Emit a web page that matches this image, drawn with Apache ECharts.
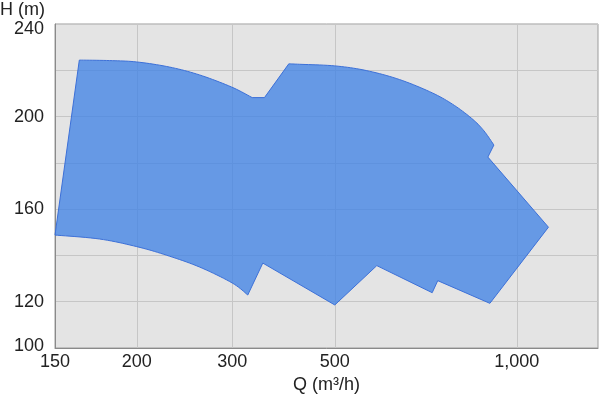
<!DOCTYPE html>
<html><head><meta charset="utf-8">
<script src="https://cdn.jsdelivr.net/npm/echarts@6/dist/echarts.min.js"></script>
<style>html,body{margin:0;padding:0;background:#fff}#c{width:600px;height:394px}</style>
</head><body><div id="c"></div>
<script>
// X tick values and labels
const tickQ = [150, 200, 300, 500, 1000];
const tickLabels = ['150', '200', '300', '500', '1,000'];
// axis scale definition: where each tick value sits along the x axis (0..100)
const tickPos = [0, 15.06, 32.63, 51.53, 85.05];
// Y tick labels shown
const yTickLabels = [100, 120, 160, 200, 240];

// Operating envelope outline (Q in m3/h, H in m), clockwise from top-left
const envelopeQ = [163.4, 181.7, 200, 229.8, 261.1, 299, 331.4, 352.3, 397.7, 419.4, 500, 563.5, 639.7, 725.2, 788.6, 846.4, 882.5, 916.4, 895.6, 1128, 902.5, 740, 724.5, 586.7, 500, 349.4, 324.2, 300, 261.1, 226.9, 200, 175.4, 150];
const envelopeH = [224.4, 224.2, 223.6, 221.4, 218.0, 212.8, 208.2, 208.2, 222.8, 222.6, 221.9, 219.9, 216.0, 210.2, 204.8, 198.7, 193.8, 187.7, 182.5, 152.2, 119.3, 129.1, 123.9, 135.6, 118.6, 136.7, 122.9, 128.1, 135.0, 140.1, 143.8, 147.1, 148.8];
// which runs of outline points are pump curves (drawn smooth)
const curvedRuns = [[0, 6], [8, 17], [26, 32]];

function toAxis(q) {
  let i = 0;
  while (i < tickQ.length - 2 && q > tickQ[i + 1]) i++;
  const l0 = Math.log10(tickQ[i]), l1 = Math.log10(tickQ[i + 1]);
  return tickPos[i] + (Math.log10(q) - l0) / (l1 - l0) * (tickPos[i + 1] - tickPos[i]);
}

const pts = envelopeQ.map((q, i) => [toAxis(q), envelopeH[i]]);
const font = 'Liberation Sans';

function runOf(i) {
  for (const r of curvedRuns) if (r[0] <= i && i + 1 <= r[1]) return r;
  return null;
}

function outline(px) {
  const n = px.length, out = [px[0]];
  for (let i = 0; i < n; i++) {
    const a = px[i], b = px[(i + 1) % n];
    const r = i + 1 < n ? runOf(i) : null;
    if (!r) { out.push(b); continue; }
    const p0 = px[Math.max(r[0], i - 1)], p3 = px[Math.min(r[1], i + 2)];
    const c1 = [a[0] + (b[0] - p0[0]) / 6, a[1] + (b[1] - p0[1]) / 6];
    const c2 = [b[0] - (p3[0] - a[0]) / 6, b[1] - (p3[1] - a[1]) / 6];
    const steps = 10;
    for (let s = 1; s <= steps; s++) {
      const t = s / steps, u = 1 - t;
      out.push([
        u * u * u * a[0] + 3 * u * u * t * c1[0] + 3 * u * t * t * c2[0] + t * t * t * b[0],
        u * u * u * a[1] + 3 * u * u * t * c1[1] + 3 * u * t * t * c2[1] + t * t * t * b[1]
      ]);
    }
  }
  return out;
}

const chart = echarts.init(document.getElementById('c'), null, {renderer: 'canvas'});
chart.setOption({
  animation: false,
  title: {text: 'H (m)', left: 0, top: 1, padding: 0, textStyle: {fontFamily: font, fontSize: 18, fontWeight: 'normal', color: '#222'}},
  grid: {left: 55, right: 2, top: 24, bottom: 46, show: true, backgroundColor: '#e4e4e4', borderColor: '#9c9c9c', borderWidth: 1, outerBoundsMode: 'none', containLabel: false},
  xAxis: {
    type: 'value', min: 0, max: 100,
    name: 'Q (m³/h)', nameLocation: 'middle', nameGap: 24,
    nameTextStyle: {fontFamily: font, fontSize: 18, color: '#222'},
    axisLine: {show: true, lineStyle: {color: '#8a8a8a', width: 1}},
    axisTick: {show: false, customValues: tickPos},
    axisLabel: {
      customValues: tickPos, margin: 5, fontFamily: font, fontSize: 18, color: '#222',
      formatter: v => { const i = tickPos.findIndex(p => Math.abs(p - v) < 1e-6); return i >= 0 ? tickLabels[i] : ''; }
    },
    splitLine: {show: true, lineStyle: {color: '#c6c6c6', width: 1}}
  },
  yAxis: {
    type: 'value', min: 100, max: 240, interval: 20,
    axisLine: {show: true, lineStyle: {color: '#8a8a8a', width: 1}},
    axisTick: {show: false},
    axisLabel: {
      margin: 11, fontFamily: font, fontSize: 18, color: '#222', showMinLabel: true, showMaxLabel: true,
      formatter: v => !yTickLabels.includes(v) ? '' : (v === 240 ? '{top|' + v + '}' : (v === 100 ? '{bot|' + v + '}' : String(v))),
      rich: {
        top: {fontFamily: font, fontSize: 18, color: '#222', padding: [11, 0, 0, 0]},
        bot: {fontFamily: font, fontSize: 18, color: '#222', padding: [0, 0, 3, 0]}
      }
    },
    splitLine: {show: true, lineStyle: {color: '#c6c6c6', width: 1}}
  },
  series: [{
    type: 'custom',
    coordinateSystem: 'cartesian2d',
    data: pts,
    encode: {x: 0, y: 1},
    silent: true,
    renderItem: (params, api) => {
      if (params.dataIndex !== 0) return;
      const points = outline(pts.map(p => api.coord(p)));
      return {type: 'polygon', shape: {points: points}, style: {fill: 'rgba(60,128,230,0.75)', stroke: '#3c70d8', lineWidth: 1}};
    }
  }]
});
</script>
</body></html>
